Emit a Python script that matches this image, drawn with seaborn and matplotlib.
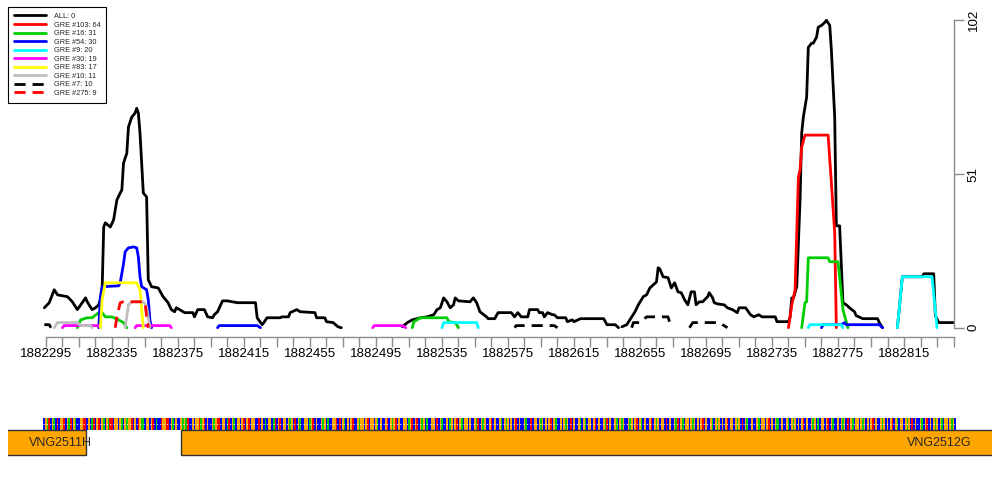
import numpy as np
import pandas as pd
import matplotlib
matplotlib.use("Agg")
import matplotlib.pyplot as plt
import seaborn as sns
from matplotlib.lines import Line2D

# -----------------------------
# Data
# -----------------------------

series_names = ["ALL", "GRE #103", "GRE #16", "GRE #54", "GRE #9",
                "GRE #30", "GRE #83", "GRE #10", "GRE #7", "GRE #275"]
series_counts = [0, 64, 31, 30, 20, 19, 17, 11, 10, 9]

# (position, count) points, None = break in the line
all_pts = [
    (1882294, 6.6), (1882297, 8.3), (1882300, 12.6), (1882302, 10.9), (1882308, 10.3),
    (1882311, 8.6), (1882314, 6.0), (1882317, 8.3), (1882319, 9.9), (1882320, 8.6),
    (1882323, 6.0), (1882325, 6.6), (1882327, 7.6), (1882329, 11.6), (1882330, 33.4),
    (1882331, 34.8), (1882334, 33.4), (1882336, 35.8), (1882338, 42.4), (1882340, 44.7),
    (1882341, 45.7), (1882342, 54.6), (1882344, 57.9), (1882345, 66.6), (1882347, 69.9),
    (1882349, 71.2), (1882350, 72.8), (1882351, 71.2), (1882352, 64.6), (1882354, 44.7),
    (1882356, 43.4), (1882357, 15.9), (1882359, 13.6), (1882363, 13.2), (1882366, 10.3),
    (1882369, 8.3), (1882371, 6.0), (1882373, 5.3), (1882374, 6.6), (1882376, 6.0),
    (1882379, 5.0), (1882384, 5.0), (1882385, 3.6), (1882387, 6.0), (1882391, 6.0),
    (1882393, 3.6), (1882396, 3.3), (1882397, 4.3), (1882399, 5.3), (1882402, 8.9),
    (1882405, 8.9), (1882411, 8.3), (1882422, 8.3), (1882423, 3.3), (1882426, 1.0),
    (1882427, 1.7), (1882429, 3.3), (1882437, 3.3), (1882438, 3.6), (1882442, 3.6),
    (1882443, 5.0), (1882447, 6.0), (1882449, 5.3), (1882458, 5.0), (1882459, 3.3),
    (1882464, 3.3), (1882465, 2.0), (1882469, 1.7), (1882472, 0.3), (1882474, 0),
    None,
    (1882511, 0.3), (1882514, 1.7), (1882517, 2.6), (1882522, 3.3), (1882526, 3.6),
    (1882530, 4.3), (1882532, 6.0), (1882534, 6.6), (1882536, 9.9), (1882538, 8.6),
    (1882540, 6.6), (1882542, 7.6), (1882543, 9.9), (1882545, 8.9), (1882552, 8.6),
    (1882554, 9.9), (1882556, 8.3), (1882558, 5.3), (1882562, 3.6), (1882563, 3.0),
    (1882567, 3.0), (1882569, 5.0), (1882577, 5.0), (1882579, 3.6), (1882581, 5.0),
    (1882583, 3.6), (1882587, 3.6), (1882588, 6.0), (1882593, 6.0), (1882594, 5.0),
    (1882596, 5.0), (1882597, 3.6), (1882599, 5.0), (1882602, 4.3), (1882603, 4.3),
    (1882605, 3.3), (1882610, 3.3), (1882611, 2.0), (1882614, 2.6), (1882615, 2.0),
    (1882619, 3.0), (1882633, 3.0), (1882635, 1.0), (1882640, 1.0), (1882642, 0),
    None,
    (1882644, 0.3), (1882647, 1.0), (1882650, 3.6), (1882652, 5.3), (1882654, 7.6),
    (1882657, 10.3), (1882659, 10.9), (1882661, 13.2), (1882663, 14.2), (1882665, 15.2),
    (1882666, 19.9), (1882667, 19.5), (1882669, 16.9), (1882672, 16.6), (1882674, 13.2),
    (1882676, 14.9), (1882678, 11.9), (1882680, 11.6), (1882682, 9.3), (1882684, 7.6),
    (1882686, 11.9), (1882688, 11.9), (1882689, 7.6), (1882691, 8.6), (1882693, 8.6),
    (1882696, 10.3), (1882697, 11.6), (1882699, 9.9), (1882700, 8.3), (1882702, 7.9),
    (1882706, 7.6), (1882708, 6.6), (1882711, 6.0), (1882714, 5.0), (1882715, 6.6),
    (1882719, 6.6), (1882722, 4.3), (1882724, 3.6), (1882727, 4.3), (1882729, 3.6),
    (1882737, 3.6), (1882738, 2.0), (1882745, 2.0), (1882746, 3.6), (1882747, 9.9),
    (1882748, 9.9), (1882750, 13.6), (1882752, 42.4), (1882753, 64.6), (1882754, 69.9),
    (1882756, 76.5), (1882757, 93.0), (1882759, 94.4), (1882760, 94.4), (1882762, 96.4),
    (1882763, 99.7), (1882765, 100.3), (1882767, 101.3), (1882768, 102.0), (1882770, 100.3),
    (1882771, 92.0), (1882773, 69.9), (1882774, 33.8), (1882776, 33.8), (1882778, 8.3),
    (1882780, 7.6), (1882782, 6.6), (1882785, 5.3), (1882786, 4.0), (1882790, 3.0),
    (1882799, 3.0), (1882800, 1.7), (1882802, 0),
    None,
    (1882811, 0), (1882814, 16.9), (1882826, 16.9), (1882827, 17.9), (1882833, 17.9),
    (1882834, 4.0), (1882836, 1.7), (1882845, 1.7),
]

gre103_pts = [
    (1882745, 0), (1882747, 7.6), (1882749, 12.6), (1882751, 50.0), (1882752, 52.3),
    (1882753, 59.9), (1882755, 63.9), (1882769, 63.9), (1882771, 48.0), (1882773, 31.5),
    (1882774, 0),
]

gre16_pts = [
    (1882314, 0), (1882316, 2.6), (1882320, 3.3), (1882323, 3.3), (1882327, 5.0),
    (1882329, 5.0), (1882331, 3.6), (1882335, 3.6), (1882339, 2.6), (1882342, 1.7),
    (1882344, 0),
    None,
    (1882517, 0), (1882518, 2.0), (1882522, 3.3), (1882538, 3.3), (1882539, 2.0),
    (1882543, 1.7), (1882545, 0),
    None,
    (1882753, 0), (1882755, 8.3), (1882756, 8.6), (1882757, 23.2), (1882769, 23.2),
    (1882770, 21.9), (1882775, 21.9), (1882778, 6.0), (1882781, 0),
]

gre54_pts = [
    (1882327, 0), (1882328, 10.3), (1882329, 13.6), (1882339, 13.9), (1882340, 14.9),
    (1882342, 21.2), (1882343, 25.2), (1882345, 26.5), (1882348, 26.8), (1882350, 26.5),
    (1882351, 23.5), (1882352, 16.9), (1882353, 13.6), (1882356, 12.6), (1882357, 9.3),
    (1882358, 2.6), (1882359, 0),
    None,
    (1882399, 0), (1882400, 0.7), (1882423, 0.7), (1882425, 0),
    None,
    (1882765, 0), (1882766, 1.0), (1882777, 1.0), (1882779, 1.7), (1882780, 1.0),
    (1882800, 1.0), (1882802, 0),
]

gre9_pts = [
    (1882535, 0), (1882536, 1.7), (1882556, 1.7), (1882557, 0),
    None,
    (1882757, 0), (1882758, 1.0), (1882777, 1.0), (1882778, 0),
    None,
    (1882811, 0), (1882814, 16.9), (1882832, 16.9), (1882835, 0),
]

gre30_pts = [
    (1882305, 0), (1882306, 0.7), (1882327, 0.7), (1882328, 0),
    None,
    (1882349, 0), (1882350, 0.7), (1882370, 0.7), (1882371, 0),
    None,
    (1882493, 0), (1882494, 0.7), (1882511, 0.7), (1882513, 0),
]

gre83_pts = [
    (1882328, 0), (1882329, 9.3), (1882331, 14.9), (1882350, 14.9), (1882352, 12.6),
    (1882353, 6.0), (1882354, 0),
]

gre10_pts = [
    (1882300, 0), (1882302, 1.7), (1882314, 1.7), (1882316, 0.7), (1882322, 0.7),
    (1882323, 0),
    None,
    (1882343, 0), (1882345, 7.6), (1882347, 8.6), (1882354, 8.6), (1882356, 7.0),
    (1882358, 0),
]

gre7_pts = [
    (1882294, 1.0), (1882297, 1.0), (1882298, 0),
    None,
    (1882579, 0), (1882580, 0.7), (1882603, 0.7), (1882605, 0),
    None,
    (1882650, 0), (1882651, 1.7), (1882655, 1.7), (1882659, 3.6), (1882672, 3.6),
    (1882674, 0),
    None,
    (1882685, 0), (1882687, 1.7), (1882703, 1.7), (1882708, 0),
]

gre275_pts = [
    (1882337, 0), (1882338, 3.6), (1882340, 8.3), (1882342, 8.6), (1882355, 8.6),
    (1882356, 3.6), (1882357, 0),
]

series_pts = [all_pts, gre103_pts, gre16_pts, gre54_pts, gre9_pts,
              gre30_pts, gre83_pts, gre10_pts, gre7_pts, gre275_pts]

# sequence strip (starts at seq_start)
seq_start = 1882294
sequence = (
    "CGATCGACTCGGTCGATCGACCGGTTCGCATCGTCGACGATTCGGCGACG"
    "AGGTCGCTGAACGGCGTCACCTGGTTCGACGCCGAGATCCGCGGTAGTCG"
    "CCGAGTTCGGCATCGACGGCGTCGTCGGCCTCGCACGGCATCGTCGGCGA"
    "GCTCGACCGGCAGTCGCCGAGCACCGGTCTCGACGCGTCCGAGGCGTCGG"
    "CGACGCCGTCGAGTCGCCGGCAGTCGTCGAGCACCGGCTCGACCGCAGCG"
    "TCGACGGCGCCGATCGAGCCGTCGCCGACGAGCGCGTCGCCGACCTCGGC"
    "GAGCGCGTCGACCGCGAGCTCGCCGACGACGGCGTCGCCGATCGCCGACG"
    "AGCCGAGCGTCGACGCCGTCGAGCGGCTCGCCGATCGACGGCGAGCGCGT"
    "CGCCGACGAGCGCGTCGGCGAGCTCGACCGCCGACGGCGTCGCGAACGCC"
    "GACGAGCGCGTCGCCGAGCACGGCGTCGACCGCGAGCTCGACGGCGAGCG"
    "CGTCGCCGAGCGCGTCGACGGCGAGCTCGCCGACGTCGCGAGCGACGGCG"
    "AGC"
)

gene_names = ["VNG2511H", "VNG2512G"]
gene_start = [1882100, 1882377]
gene_end = [1882319, 1883100]

x_ticks = list(range(1882295, 1882846, 10))
x_labels = list(range(1882295, 1882816, 40))
y_ticks = [0, 51, 102]

# -----------------------------
# Styling
# -----------------------------

sns.set_style("white")
plt.rcParams["font.family"] = ["Liberation Sans", "DejaVu Sans"]

line_colors = ["black", "red", "#00CD00", "blue", "cyan",
               "magenta", "yellow", "#BEBEBE", "black", "red"]
line_dashes = ["", "", "", "", "", "", "", "", (4, 2.5), (4, 2.5)]
base_colors = {"A": "#00CD00", "C": "#0000FF", "G": "#FFA500", "T": "#FF0000"}
axis_gray = "#8C8C8C"

# -----------------------------
# Build long table
# -----------------------------

rows = []
for name, pts in zip(series_names, series_pts):
    seg = 0
    for p in pts:
        if p is None:
            seg += 1
            continue
        rows.append((name, f"{name}-{seg}", p[0], p[1]))

df = pd.DataFrame(rows, columns=["series", "segment", "position", "count"])

# -----------------------------
# Figure
# -----------------------------

fig = plt.figure(figsize=(10, 5), dpi=100)

ax = fig.add_axes([8 / 1000, 1 - 340 / 500, 946 / 1000, 332 / 500])

sns.lineplot(
    data=df,
    x="position",
    y="count",
    hue="series",
    hue_order=series_names,
    style="series",
    style_order=series_names,
    units="segment",
    estimator=None,
    palette=dict(zip(series_names, line_colors)),
    dashes=dict(zip(series_names, line_dashes)),
    linewidth=2,
    legend=False,
    ax=ax,
)

ax.set_xlim(1882272.0, 1882845.3)
ax.set_ylim(-4.08, 106.08)

for side in ["left", "top"]:
    ax.spines[side].set_visible(False)
ax.spines["right"].set_bounds(0, 102)
ax.spines["bottom"].set_bounds(1882295, 1882845)
ax.spines["bottom"].set_position(("data", -2.98))
for side in ["right", "bottom"]:
    ax.spines[side].set_color(axis_gray)
    ax.spines[side].set_linewidth(1)

ax.set_xticks(x_ticks)
ax.set_xticklabels([str(t) if t in x_labels else "" for t in x_ticks])
ax.yaxis.tick_right()
ax.set_yticks(y_ticks)
ax.set_yticklabels([str(t) for t in y_ticks], rotation=90, va="center")
ax.tick_params(axis="both", direction="out", length=7, width=1,
               color=axis_gray, labelcolor="black", labelsize=9.6,
               bottom=True, right=True, left=False, top=False)
ax.tick_params(axis="x", pad=1)
ax.tick_params(axis="y", pad=3)
ax.set_xlabel("")
ax.set_ylabel("")
ax.grid(False)

handles = [
    Line2D([0], [0], color=c, lw=2,
           linestyle=(0, d) if d else "-")
    for c, d in zip(line_colors, line_dashes)
]
labels = [f"{n}: {c}" for n, c in zip(series_names, series_counts)]
fig.legend(
    handles, labels,
    loc="upper left",
    bbox_to_anchor=(8 / 1000, 1 - 7 / 500),
    fontsize=5.3,
    frameon=True,
    fancybox=False,
    edgecolor="black",
    framealpha=1,
    borderpad=0.8,
    labelspacing=0.19,
    handlelength=4.3,
    handletextpad=1.1,
    borderaxespad=0,
).get_frame().set_linewidth(0.8)

# -----------------------------
# Sequence and genes
# -----------------------------

ax2 = fig.add_axes([8 / 1000, 1 - 460 / 500, 984 / 1000, 50 / 500])
ax2.set_xlim(1882272.0, 1882868.3)
ax2.set_ylim(-0.2, 1.8)
ax2.axis("off")

seq_pos = np.arange(seq_start, seq_start + len(sequence))
ax2.bar(seq_pos, 0.48, bottom=1, width=1.0,
        color=[base_colors[b] for b in sequence], linewidth=0)
ax2.plot([seq_pos[0] - 0.5, seq_pos[-1] + 0.5], [1.24, 1.24],
         color="white", lw=0.6, ls=(0, (1.5, 2.5)))

for name, s, e in zip(gene_names, gene_start, gene_end):
    ax2.barh(0.5, e - s, left=s, height=1, color="#FFA500",
             edgecolor="#333333", linewidth=1)

ax2.text(1882304, 0.5, gene_names[0], ha="center", va="center", fontsize=9)
ax2.text(1882836, 0.5, gene_names[1], ha="center", va="center", fontsize=9)

plt.savefig("out.png", dpi=100)
plt.close()
